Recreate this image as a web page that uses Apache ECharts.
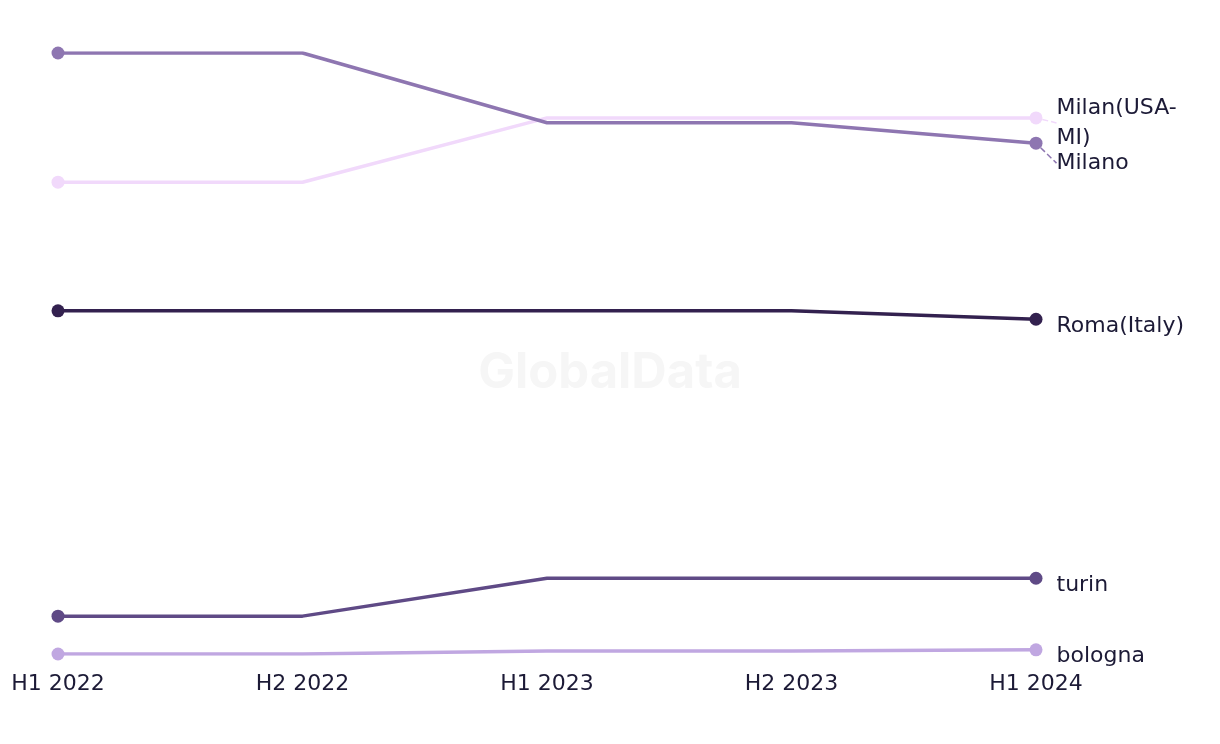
<!DOCTYPE html>
<html>
<head>
<meta charset="utf-8">
<script src="https://cdn.jsdelivr.net/npm/echarts@6/dist/echarts.min.js"></script>
<style>
  html, body { margin: 0; padding: 0; background: #fff; }
  #chart { width: 1220px; height: 744px; }
</style>
</head>
<body>
<div id="chart"></div>
<script>
// periods on the x axis
var periods = ['H1 2022', 'H2 2022', 'H1 2023', 'H2 2023', 'H1 2024'];

// values (relative scale, 0-100)
var milano  = [100, 100, 88.4, 88.4, 85.0];
var milanUs = [78.5, 78.5, 89.2, 89.2, 89.2];
var roma    = [57.1, 57.1, 57.1, 57.1, 55.7];
var turin   = [6.3, 6.3, 12.6, 12.6, 12.6];
var bologna = [0, 0, 0.5, 0.5, 0.7];

var names  = ['Milano', 'Milan(USA-MI)', 'Roma(Italy)', 'turin', 'bologna'];
var values = [milano, milanUs, roma, turin, bologna];
var colors = ['#8e76b1', '#f1d9fb', '#33214f', '#5f4a86', '#c0a7e1'];
// vertical nudge of the end labels (the Milan pair is pushed apart)
var labelShift = [20, 5, 7, 7, 6];

var FONT = '"DejaVu Sans", sans-serif';

var chart = echarts.init(document.getElementById('chart'));

function makeSeries(i) {
  var vals = values[i];
  var data = vals.map(function (v, k) {
    if (k === vals.length - 1) {
      var label = {
        show: true,
        position: 'right',
        distance: 14,
        formatter: names[i],
        color: '#1c1a36',
        fontSize: 22,
        fontFamily: FONT,
        lineHeight: 30
      };
      // long name wraps onto two lines
      if (names[i].length > 12) {
        label.width = 128;
        label.overflow = 'break';
      }
      return { value: v, label: label };
    }
    if (k === 0) return v;
    return { value: v, symbol: 'none' };
  });
  return {
    name: names[i],
    type: 'line',
    data: data,
    color: colors[i],
    symbol: 'circle',
    symbolSize: 13,
    lineStyle: { width: 3.5, color: colors[i] },
    itemStyle: { color: colors[i] },
    labelLine: { show: i < 2, lineStyle: { type: 'dashed', width: 1.5, color: colors[i] } },
    labelLayout: { dy: labelShift[i] },
    emphasis: { disabled: true },
    z: 10 - i
  };
}

chart.setOption({
  animation: false,
  backgroundColor: '#ffffff',
  grid: { left: 58, right: 184, top: 53, bottom: 90 },
  graphic: [{
    type: 'text',
    left: 'center',
    top: 349,
    z: 0,
    style: {
      text: 'GlobalData',
      fontSize: 49,
      fontWeight: 'bold',
      fontFamily: 'Inter, Roboto, sans-serif',
      fill: '#f6f6f6'
    }
  }],
  xAxis: {
    type: 'category',
    data: periods,
    boundaryGap: false,
    axisLine: { show: false },
    axisTick: { show: false },
    axisLabel: {
      color: '#1c1a36',
      fontSize: 22,
      fontFamily: FONT,
      margin: 19
    }
  },
  yAxis: {
    type: 'value',
    min: 0,
    max: 100,
    show: false
  },
  series: values.map(function (v, i) { return makeSeries(i); })
});
</script>
</body>
</html>
